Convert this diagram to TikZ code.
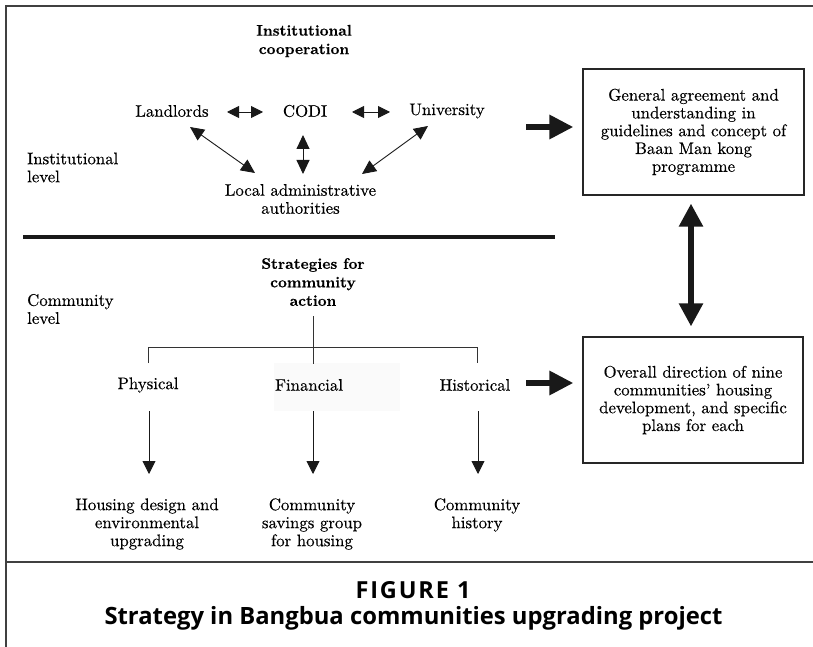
\documentclass[tikz,border=0pt]{standalone}
\usepackage{fontspec}
\setmainfont{lmroman10}[Extension=.otf, UprightFont=*-regular, BoldFont=*-bold, ItalicFont=*-italic, FakeBold=0.35]
\newfontfamily\capfont{Open Sans}
\newfontfamily\capfontspaced{Open Sans}[LetterSpace=8]
\usetikzlibrary{arrows.meta}
\begin{document}
\begin{tikzpicture}[x=1pt,y=-1pt,
  lbl/.style={inner sep=0pt, font=\fontsize{16.8}{18}\selectfont, align=center, text=black},
  hd/.style={inner sep=0pt, font=\fontsize{15.3}{18.5}\selectfont\bfseries, align=center},
  box/.style={draw=black!85, line width=1.2pt, inner sep=0pt, font=\fontsize{16.8}{17.8}\selectfont, align=center},
  frameline/.style={draw=black!75, line width=1.5pt},
  dblarr/.style={draw=black!90, line width=0.9pt, {Triangle[length=12pt,width=12pt]}-{Triangle[length=12pt,width=12pt]}},
  diagarr/.style={draw=black!90, line width=0.9pt, {Triangle[length=14pt,width=13pt]}-{Triangle[length=14pt,width=13pt]}},
  downarr/.style={draw=black!90, line width=0.9pt, -{Triangle[length=13pt,width=13pt]}},
  treeline/.style={draw=black!80, line width=0.9pt},
  bigarr/.style={draw=black!90, line width=6pt, -{Triangle[length=24pt,width=23pt]}},
  bigdbl/.style={draw=black!90, line width=5.5pt, {Triangle[length=23pt,width=23pt]}-{Triangle[length=23pt,width=23pt]}},
  capstyle/.style={inner sep=0pt, font=\capfont\bfseries\fontsize{23.8}{26}\selectfont},
  figstyle/.style={inner sep=0pt, font=\capfontspaced\bfseries\fontsize{23.5}{26}\selectfont}
]
\useasboundingbox (0,0) rectangle (813,647);
\fill[white] (0,0) rectangle (813,647);

% frame
\draw[frameline] (6,647) -- (6,6) -- (813,6);
\draw[frameline] (6,562) -- (813,562);

% institutional level
\node[hd] (coop) at (304,41) {Institutional\\cooperation};
\node[lbl] (land) at (172,111) {Landlords};
\node[lbl] (codi) at (305,111) {CODI};
\node[lbl] (univ) at (447,111) {University};
\node[lbl] (local) at (300.5,199) {Local administrative\\authorities};
\node[lbl, anchor=west, align=left] (instlev) at (27,167.5) {Institutional\\level};

\draw[dblarr] ([shift={(55,1)}]land.center) -- ([shift={(-42,1)}]codi.center);
\draw[dblarr] ([shift={(47,1)}]codi.center) -- ([shift={(-57,1)}]univ.center);
\draw[diagarr] ([shift={(18,16)}]land.center) -- ([shift={(-45.5,-26)}]local.center);
\draw[diagarr] ([shift={(-2,24)}]codi.center) -- ([shift={(2.5,-25)}]local.center);
\draw[diagarr] ([shift={(-19,15)}]univ.center) -- ([shift={(61.5,-25)}]local.center);

% separator
\draw[line width=4pt, black!90] (23,237) -- (555,237);

% right boxes
\node[box, minimum width=221pt, minimum height=126pt] (box1) at (693.5,132)
  {General agreement and\\understanding in\\guidelines and concept of\\Baan Man kong\\programme};
\node[box, minimum width=220pt, minimum height=126pt] (box2) at (693,400)
  {Overall direction of nine\\communities' housing\\development, and specific\\plans for each};

\coordinate (a1) at (526,127);
\coordinate (a2) at (526,383);
\draw[bigarr, shorten >=9pt] (a1) -- (a1 -| box1.west);
\draw[bigarr, shorten >=9pt] (a2) -- (a2 -| box2.west);
\draw[bigdbl] ([shift={(-2.5,8)}]box1.south) -- ([shift={(-2,-10)}]box2.north);

% community level
\node[hd] (strat) at (313,282) {Strategies for\\community\\action};
\node[lbl, anchor=west, align=left] (commlev) at (27,309) {Community\\level};

\fill[black!2] (274,363) rectangle (400,411);
\node[lbl] (phys) at (148,385) {Physical};
\node[lbl] (fin) at (309,385) {Financial};
\node[lbl] (hist) at (475,385) {Historical};

\draw[treeline] ([shift={(0,34)}]strat.center) -- ([shift={(0,82)}]strat.center);
\draw[treeline] ([shift={(0,-22)}]phys.center) -- ([shift={(0,-38)}]phys.center)
  -- ([shift={(2,-38)}]hist.center) -- ([shift={(2,-22)}]hist.center);

\node[lbl] (out1) at (147,524) {Housing design and\\environmental\\upgrading};
\node[lbl] (out2) at (312,524) {Community\\savings group\\for housing};
\node[lbl] (out3) at (477,515) {Community\\history};

\draw[downarr] ([shift={(1,26)}]phys.center) -- ([shift={(2,-50)}]out1.center);
\draw[downarr] ([shift={(4,26)}]fin.center) -- ([shift={(1,-50)}]out2.center);
\draw[downarr] ([shift={(3,26)}]hist.center) -- ([shift={(1,-41)}]out3.center);

% caption
\node[figstyle] (fig) at (413,590) {FIGURE 1};
\node[capstyle] (cap) at (413.5,618) {Strategy in Bangbua communities upgrading project};
\end{tikzpicture}
\end{document}
